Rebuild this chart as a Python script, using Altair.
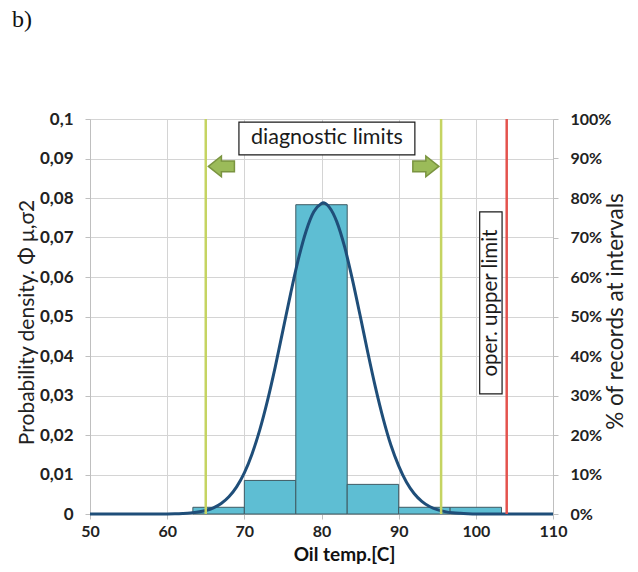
import altair as alt
import pandas as pd

# Histogram bins (oil temperature, deg C) and share of records in each bin (%)
bin_start = [63.33, 70.0, 76.67, 83.33, 90.0, 96.67]
bin_end = [70.0, 76.67, 83.33, 90.0, 96.67, 103.33]
share_pct = [1.7, 8.5, 78.3, 7.5, 1.7, 1.7]

# Probability density curve
curve_x = [50, 55, 58, 60, 61, 62, 63, 64, 65, 66, 67, 68, 69, 70, 71, 72, 73, 74, 75,
           76, 77, 78, 79, 80, 80.2, 81, 82, 83, 84, 85, 86, 87, 88, 89, 90, 91, 92, 93,
           94, 95, 96, 97, 98, 99, 100, 102, 105, 110]
curve_y = [0.0, 0.0, 0.00001, 0.00003, 0.00006, 0.00013, 0.00025, 0.00048, 0.00088,
           0.00156, 0.00265, 0.00435, 0.00686, 0.0104, 0.0152, 0.0213, 0.0287, 0.0372,
           0.0465, 0.0558, 0.0645, 0.0716, 0.0765, 0.0786, 0.0788, 0.0777, 0.0739,
           0.0676, 0.0594, 0.0503, 0.0409, 0.0320, 0.0241, 0.0174, 0.0122, 0.0081,
           0.0052, 0.0032, 0.0019, 0.0011, 0.0006, 0.0003, 0.00016, 0.00008, 0.00003,
           0.00001, 0.0, 0.0]

# Limit lines
limit_x = [65.0, 95.5, 104.0]
limit_kind = ["diag", "diag", "oper"]

# Annotation boxes (data coordinates)
box_x = [69.3, 100.5]
box_x2 = [92.1, 103.4]
box_y = [0.0992, 0.0765]
box_y2 = [0.0909, 0.0304]
label_text = ["diagnostic limits", "oper. upper limit"]
label_x = [80.7, 101.95]
label_y = [0.0951, 0.0534]
arrow_x = [67.03, 93.52]
arrow_y = [0.0880, 0.0880]

FONT = "Lato"
X_DOMAIN = [50, 110]

bars_df = pd.DataFrame({"start": bin_start, "end": bin_end, "pct": share_pct})
curve_df = pd.DataFrame({"temp": curve_x, "dens": curve_y})
limits_df = pd.DataFrame({"temp": limit_x, "kind": limit_kind})
boxes_df = pd.DataFrame({"x": box_x, "x2": box_x2, "y": box_y, "y2": box_y2})
diag_df = pd.DataFrame({"x": [label_x[0]], "y": [label_y[0]], "t": [label_text[0]]})
oper_df = pd.DataFrame({"x": [label_x[1]], "y": [label_y[1]], "t": [label_text[1]]})
left_arrow_df = pd.DataFrame({"x": [arrow_x[0]], "y": [arrow_y[0]]})
right_arrow_df = pd.DataFrame({"x": [arrow_x[1]], "y": [arrow_y[1]]})
title_df = pd.DataFrame({"t": ["b)"]})

xscale = alt.Scale(domain=X_DOMAIN, nice=False, zero=False)
yscale = alt.Scale(domain=[0, 0.1], nice=False)

x_axis = alt.Axis(
    title="Oil temp.[C]", values=[50, 60, 70, 80, 90, 100, 110], grid=True,
    gridColor="#D4D4D4", gridWidth=1, domainColor="#BFBFBF", tickColor="#BFBFBF",
    tickSize=5, labelFont=FONT, labelFontWeight="bold", labelFontSize=16,
    labelColor="#222222", labelPadding=4, labelFlush=False, labelOverlap=False,
    titleFont=FONT, titleFontWeight="bold", titleFontSize=19, titleColor="#111111",
    titleX=254, titleY=46, titleBaseline="alphabetic",
)

left_axis = alt.Axis(
    orient="left", title="Probability density. Φ μ,σ2",
    values=[0, 0.01, 0.02, 0.03, 0.04, 0.05, 0.06, 0.07, 0.08, 0.09, 0.1],
    grid=True, gridColor="#D4D4D4", gridWidth=1,
    domainColor="#BFBFBF", tickColor="#BFBFBF", tickSize=5,
    labelExpr="replace(format(datum.value, '.2~f'), '.', ',')",
    labelFont=FONT, labelFontWeight="bold", labelFontSize=17, labelColor="#222222",
    labelPadding=12, labelFlush=False, labelOverlap=False,
    titleFont=FONT, titleFontWeight="normal", titleFontSize=21, titleColor="#222222",
    titleX=-57, titleY=203, titleAngle=270, titleBaseline="alphabetic",
)

right_axis = alt.Axis(
    orient="right", title="% of records at intervals",
    values=list(range(0, 101, 10)), grid=False,
    domainColor="#BFBFBF", tickColor="#BFBFBF", tickSize=5,
    labelExpr="datum.value + '%'",
    labelFont=FONT, labelFontWeight="bold", labelFontSize=16, labelColor="#222222",
    labelPadding=12, labelFlush=False, labelOverlap=False,
    titleFont=FONT, titleFontWeight="normal", titleFontSize=22.5, titleColor="#222222",
    titleX=69, titleY=192, titleAngle=270, titleBaseline="alphabetic",
)


def X(field):
    return alt.X(field, scale=xscale, axis=x_axis)


def Y(field):
    return alt.Y(field, scale=yscale, axis=left_axis)


bars = alt.Chart(bars_df).mark_rect(
    color="#5EBED3", stroke="#3E5A63", strokeWidth=1
).encode(
    x=X("start:Q"),
    x2="end:Q",
    y=alt.Y("pct:Q", scale=alt.Scale(domain=[0, 100], nice=False), axis=right_axis),
    y2=alt.datum(0),
)

curve = alt.Chart(curve_df).mark_line(
    color="#1F4E79", strokeWidth=3, interpolate="monotone"
).encode(x=X("temp:Q"), y=Y("dens:Q"))

limits = alt.Chart(limits_df).transform_calculate(lo="0", hi="0.1").mark_rule(
    strokeWidth=2.5
).encode(
    x=X("temp:Q"),
    y=Y("lo:Q"),
    y2="hi:Q",
    color=alt.Color("kind:N", scale=alt.Scale(domain=["diag", "oper"],
                                              range=["#C5D462", "#E4534D"]), legend=None),
)

boxes = alt.Chart(boxes_df).mark_rect(
    fill="white", stroke="#1A1A1A", strokeWidth=1.2
).encode(x=X("x:Q"), x2="x2:Q", y=Y("y:Q"), y2="y2:Q")

diag_text = alt.Chart(diag_df).mark_text(
    font=FONT, fontSize=21.5, color="#1A1A1A", align="center", baseline="middle"
).encode(x=X("x:Q"), y=Y("y:Q"), text="t:N")

oper_text = alt.Chart(oper_df).mark_text(
    font=FONT, fontSize=20.5, color="#1A1A1A", align="center", baseline="middle", angle=270
).encode(x=X("x:Q"), y=Y("y:Q"), text="t:N")

LEFT_ARROW = "M -1 0 L 0 -0.8 L 0 -0.42 L 1 -0.42 L 1 0.42 L 0 0.42 L 0 0.8 Z"
RIGHT_ARROW = "M 1 0 L 0 -0.8 L 0 -0.42 L -1 -0.42 L -1 0.42 L 0 0.42 L 0 0.8 Z"

left_arrow = alt.Chart(left_arrow_df).mark_point(
    shape=LEFT_ARROW, size=676, filled=True, fill="#9BBB59", stroke="#7A9440",
    strokeWidth=1.5, opacity=1
).encode(x=X("x:Q"), y=Y("y:Q"))

right_arrow = alt.Chart(right_arrow_df).mark_point(
    shape=RIGHT_ARROW, size=676, filled=True, fill="#9BBB59", stroke="#7A9440",
    strokeWidth=1.5, opacity=1
).encode(x=X("x:Q"), y=Y("y:Q"))

panel_label = alt.Chart(title_df).mark_text(
    font="Liberation Serif", fontSize=24, color="#111111", align="left",
    baseline="alphabetic"
).encode(x=alt.value(-78), y=alt.value(-92), text="t:N")

left_layers = alt.layer(
    curve, limits, boxes, diag_text, oper_text, left_arrow, right_arrow, panel_label
)

chart = alt.layer(bars, left_layers).resolve_scale(
    y="independent"
).properties(
    width=463, height=395,
    autosize=alt.AutoSizeParams(type="none"),
    padding={"left": 90, "top": 119, "right": 85, "bottom": 58},
).configure_view(stroke=None).configure(background="white")

chart.save("out.html", embed_options={"renderer": "svg", "actions": False})
